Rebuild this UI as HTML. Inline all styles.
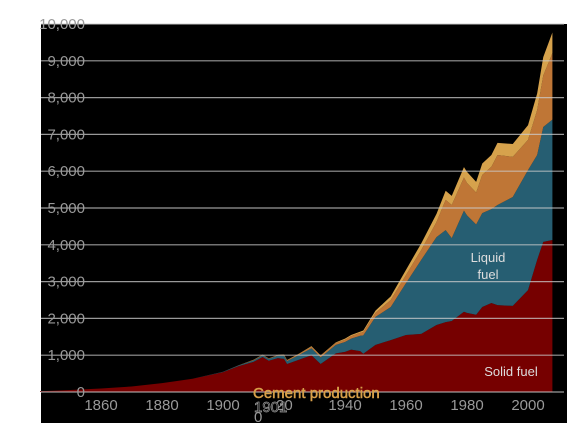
<!DOCTYPE html>
<html><head><meta charset="utf-8">
<style>
body{margin:0;background:#fff;width:567px;height:423px;overflow:hidden;font-family:"Liberation Sans",sans-serif}
svg{display:block}
</style></head><body>
<svg id="chart" width="567" height="423" xmlns="http://www.w3.org/2000/svg" font-family="Liberation Sans,sans-serif">
<rect x="41" y="24" width="526" height="399" fill="#000"/>
<g id="areas"></g><g id="grid"></g><g id="labels"></g>
<text x="276" y="410" font-size="15" fill="#999">20</text>
<text x="254" y="412" font-size="15" fill="#000" stroke="#999" stroke-width="0.7">1901</text>
<text x="254" y="422" font-size="15" fill="#999">0</text>
<text x="253" y="398" font-size="15" fill="#d8a04a" stroke="#d8a04a" stroke-width="0.5">Cement production</text>
<text x="488" y="262" font-size="13" fill="#ddd" text-anchor="middle">Liquid</text>
<text x="488" y="279" font-size="13" fill="#ddd" text-anchor="middle">fuel</text>
<text x="511" y="376" font-size="13" fill="#ddd" text-anchor="middle">Solid fuel</text>
</svg>
<script>
const years  =[1840,1850,1860,1870,1880,1890,1900,1905,1910,1913,1915,1918,1920,1921,1925,1929,1932,1937,1940,1942,1945,1946,1950,1955,1960,1965,1970,1973,1975,1979,1980,1983,1985,1988,1990,1995,2000,2003,2005,2008];
const solid  =[20,55,95,150,240,360,540,700,820,950,850,920,900,760,880,1000,760,1050,1090,1150,1110,1040,1280,1410,1550,1580,1820,1900,1930,2180,2150,2100,2310,2420,2360,2340,2770,3590,4080,4130];
const liquid =[0,0,0,0,0,0,10,20,40,50,50,70,90,80,130,190,180,230,270,300,420,500,760,900,1410,2010,2390,2500,2250,2750,2650,2450,2550,2550,2720,2960,3260,2850,3120,3270];
const gas    =[0,0,0,0,0,0,0,5,10,10,10,15,20,20,25,40,40,50,60,70,80,90,110,190,220,270,410,820,900,900,880,870,1040,1150,1360,1090,820,1220,1400,1810];
const cement =[0,0,0,0,0,0,0,0,5,5,5,5,10,10,10,15,15,20,30,30,30,40,60,100,140,180,220,250,250,280,300,290,310,320,330,350,400,450,500,560];
const yTicks=[0,1000,2000,3000,4000,5000,6000,7000,8000,9000,10000];
const xTicks=[1860,1880,1900,1940,1960,1980,2000];
const X=y=>101+(y-1860)*3.05;
const Y=v=>392-v*0.0368;
const NS="http://www.w3.org/2000/svg";
const grid=document.getElementById('grid'),areas=document.getElementById('areas'),labels=document.getElementById('labels');
function mk(tag,attrs,parent){const e=document.createElementNS(NS,tag);for(const k in attrs)e.setAttribute(k,attrs[k]);parent.appendChild(e);return e;}
const layers=[[solid,'#760000','solid-fuel-area'],[liquid,'#265e72','liquid-fuel-area'],[gas,'#bf7636','gas-fuel-area'],[cement,'#d6a24c','cement-area']];
let base=years.map(()=>0);
layers.forEach(([s,c,n])=>{
  const top=base.map((b,i)=>b+s[i]);
  let d='M'+years.map((y,i)=>X(y)+','+Y(top[i])).join('L');
  for(let i=years.length-1;i>=0;i--)d+='L'+X(years[i])+','+Y(base[i]);
  const p=mk('path',{d:d+'Z',fill:c},areas);
  
  
  base=top;
});
yTicks.forEach(v=>{
  const l=mk('line',{x1:41,x2:564,y1:Y(v),y2:Y(v),stroke:'#ccc','stroke-width':1.2,'stroke-opacity':0.75},grid);
  
  
});
yTicks.forEach(v=>{
  const t=mk('text',{x:85,y:Y(v)+5,'text-anchor':'end','font-size':15,fill:'#999'},labels);
  t.textContent=v.toLocaleString('en-US');
  
  
});
xTicks.forEach(v=>{
  const t=mk('text',{x:X(v),y:410,'text-anchor':'middle','font-size':15,fill:'#999'},labels);
  t.textContent=v;
  
  
});
</script>
</body></html>
